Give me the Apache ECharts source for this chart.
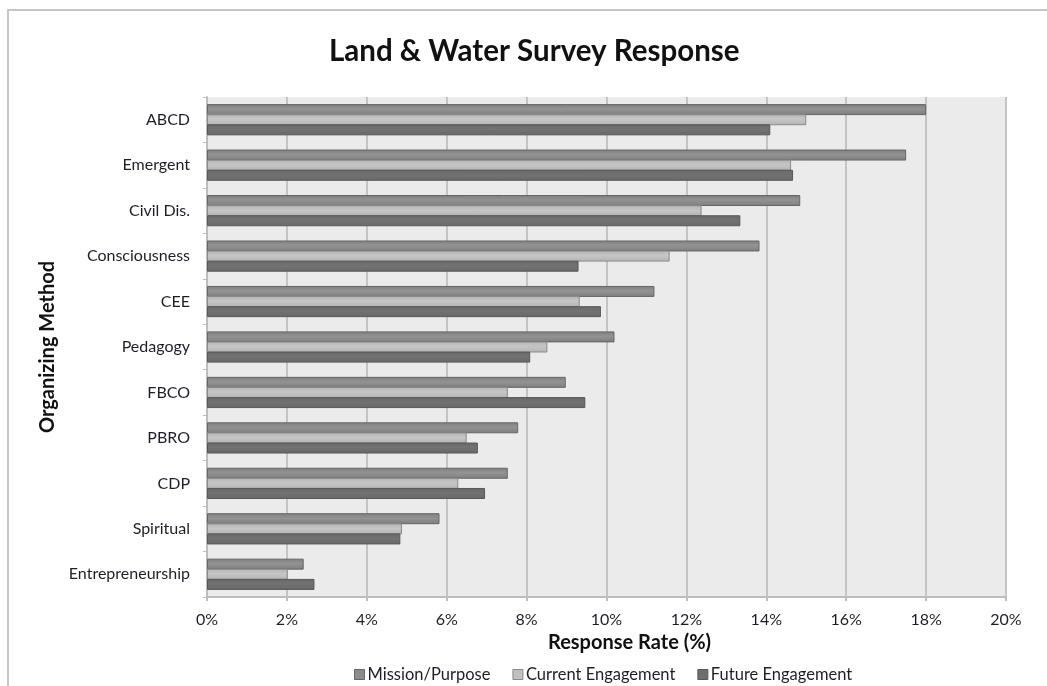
<!DOCTYPE html>
<html>
<head>
<meta charset="utf-8">
<title>Land &amp; Water Survey Response</title>
<script src="https://cdn.jsdelivr.net/npm/echarts@6/dist/echarts.min.js"></script>
<style>
  html, body { margin: 0; padding: 0; background: #ffffff; }
  #chart { width: 1047px; height: 686px; }
</style>
</head>
<body>
<div id="chart"></div>
<script>
// Organizing methods, listed top to bottom
const categories = ['ABCD', 'Emergent', 'Civil Dis.', 'Consciousness', 'CEE', 'Pedagogy',
  'FBCO', 'PBRO', 'CDP', 'Spiritual', 'Entrepreneurship'];

// Response rates in percent
const missionPurpose    = [18.0, 17.5, 14.85, 13.83, 11.2, 10.2, 8.98, 7.79, 7.53, 5.82, 2.42];
const currentEngagement = [15.0, 14.62, 12.38, 11.58, 9.33, 8.52, 7.53, 6.5, 6.29, 4.88, 2.02];
const futureEngagement  = [14.1, 14.67, 13.35, 9.3, 9.86, 8.09, 9.47, 6.78, 6.96, 4.84, 2.69];

const seriesNames = ['Mission/Purpose', 'Current Engagement', 'Future Engagement'];
const xTicks = [0, 2, 4, 6, 8, 10, 12, 14, 16, 18, 20];

const FONT = 'Lato, "Open Sans", sans-serif';

function shade(edge, mid) {
  return new echarts.graphic.LinearGradient(0, 0, 0, 1, [
    { offset: 0, color: edge },
    { offset: 0.45, color: mid },
    { offset: 1, color: edge }
  ]);
}

const styles = [
  { fill: shade('#7e7e7e', '#939393'), border: '#666666', legend: '#8c8c8c' },
  { fill: shade('#b4b4b4', '#c6c6c6'), border: '#8a8a8a', legend: '#c0c0c0' },
  { fill: shade('#686868', '#727272'), border: '#585858', legend: '#6e6e6e' }
];
const values = [missionPurpose, currentEngagement, futureEngagement];

const chart = echarts.init(document.getElementById('chart'), null, { renderer: 'canvas' });

chart.setOption({
  backgroundColor: '#ffffff',
  animation: false,
  graphic: [
    { type: 'rect', silent: true, z: -10,
      shape: { x: 8, y: 10, width: 1100, height: 720 },
      style: { fill: 'none', stroke: '#c6c6c6', lineWidth: 2 } }
  ],
  title: {
    text: 'Land & Water Survey Response',
    left: 324,
    top: 31,
    textStyle: { fontFamily: FONT, fontWeight: 'bold', fontSize: 29.5, color: '#111111' }
  },
  legend: {
    top: 661,
    left: 349,
    itemWidth: 10,
    itemHeight: 10,
    itemGap: 22,
    icon: 'rect',
    data: seriesNames.map((n, i) => ({
      name: n,
      itemStyle: { color: styles[i].legend, borderColor: styles[i].border, borderWidth: 1 }
    })),
    textStyle: { fontFamily: FONT, fontSize: 16.5, color: '#1e1e2a', padding: [0, 0, 0, -2] }
  },
  grid: {
    left: 207, right: 41, top: 97, bottom: 89,
    show: true, backgroundColor: '#ebebeb', borderWidth: 0
  },
  xAxis: {
    type: 'value',
    min: 0, max: 20, interval: 2,
    name: 'Response Rate (%)',
    nameLocation: 'middle',
    nameGap: 36,
    nameTextStyle: {
      fontFamily: FONT, fontWeight: 'bold', fontSize: 20, color: '#111111',
      padding: [0, 0, 0, 46]
    },
    axisLine: { show: true, lineStyle: { color: '#bdbdbd', width: 2 } },
    axisTick: { show: true, length: 4, lineStyle: { color: '#bdbdbd', width: 2 } },
    splitLine: { show: true, lineStyle: { color: '#c4c4c4', width: 2 } },
    axisLabel: {
      fontFamily: FONT, fontSize: 16, color: '#1e1e2a', margin: 15,
      formatter: v => xTicks.includes(v) ? v + '%' : ''
    }
  },
  yAxis: {
    type: 'category',
    inverse: true,
    data: categories,
    name: 'Organizing Method',
    nameLocation: 'middle',
    nameRotate: 90,
    nameGap: 149,
    nameTextStyle: { fontFamily: FONT, fontWeight: 'bold', fontSize: 20, color: '#111111' },
    axisLine: { show: true, lineStyle: { color: '#bdbdbd', width: 2 } },
    axisTick: { show: true, length: 4, lineStyle: { color: '#bdbdbd', width: 1 } },
    axisLabel: {
      fontFamily: FONT, fontSize: 16, color: '#1e1e2a', margin: 17,
      padding: [6, 0, 0, 0]
    }
  },
  series: seriesNames.map((n, i) => ({
    name: n,
    type: 'bar',
    data: values[i],
    barWidth: 11,
    barGap: '-8%',
    itemStyle: { color: styles[i].fill, borderColor: styles[i].border, borderWidth: 1 }
  }))
});
</script>
</body>
</html>
